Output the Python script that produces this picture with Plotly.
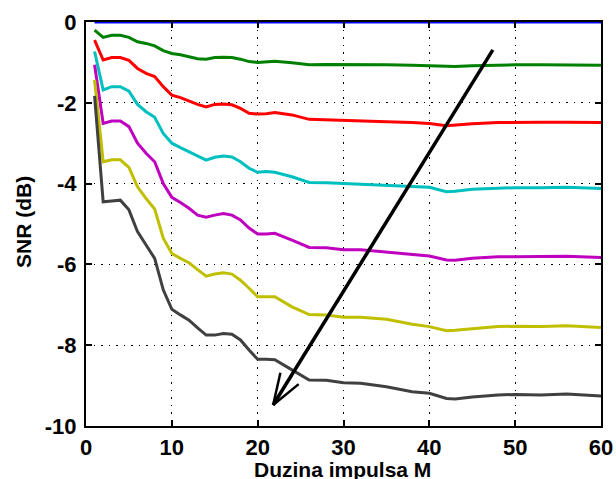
import numpy as np
import plotly.graph_objects as go

M = [1, 2, 3, 4, 5, 6, 7, 8, 9, 10, 11, 12, 13, 14, 15, 16, 17, 18, 19, 20, 21, 22,
     24, 26, 28, 30, 32, 35, 38, 40, 42, 43, 45, 48, 50, 53, 56, 60]

snr_blue = [0.0] * len(M)
snr_green = [-0.20, -0.38, -0.33, -0.33, -0.38, -0.49, -0.53, -0.59, -0.71, -0.78, -0.81, -0.86, -0.91, -0.92, -0.88, -0.87, -0.88, -0.92, -0.98, -1.00, -0.99, -0.97,
             -1.01, -1.06, -1.05, -1.05, -1.05, -1.06, -1.07, -1.08, -1.10, -1.10, -1.08, -1.06, -1.06, -1.06, -1.06, -1.07]
snr_red = [-0.45, -0.94, -0.88, -0.88, -0.95, -1.15, -1.27, -1.35, -1.60, -1.81, -1.87, -1.95, -2.04, -2.10, -2.04, -2.03, -2.05, -2.14, -2.26, -2.28, -2.27, -2.24,
           -2.30, -2.41, -2.42, -2.43, -2.44, -2.47, -2.49, -2.51, -2.57, -2.55, -2.52, -2.49, -2.48, -2.48, -2.48, -2.49]
snr_cyan = [-0.73, -1.68, -1.60, -1.60, -1.71, -2.04, -2.22, -2.36, -2.76, -3.00, -3.11, -3.21, -3.33, -3.42, -3.35, -3.32, -3.34, -3.46, -3.62, -3.72, -3.70, -3.72,
            -3.83, -3.97, -3.98, -4.00, -4.01, -4.05, -4.07, -4.09, -4.20, -4.19, -4.14, -4.11, -4.10, -4.10, -4.09, -4.12]
snr_magenta = [-1.06, -2.51, -2.45, -2.45, -2.59, -3.00, -3.25, -3.46, -4.00, -4.34, -4.47, -4.61, -4.78, -4.83, -4.78, -4.74, -4.78, -4.90, -5.10, -5.25, -5.25, -5.23,
               -5.40, -5.58, -5.59, -5.64, -5.64, -5.69, -5.74, -5.79, -5.89, -5.90, -5.85, -5.81, -5.81, -5.81, -5.80, -5.83]
snr_yellow = [-1.43, -3.46, -3.41, -3.41, -3.60, -4.08, -4.37, -4.63, -5.35, -5.73, -5.85, -5.96, -6.13, -6.29, -6.24, -6.21, -6.24, -6.39, -6.59, -6.80, -6.80, -6.80,
              -7.05, -7.24, -7.25, -7.31, -7.31, -7.36, -7.48, -7.54, -7.64, -7.63, -7.59, -7.54, -7.53, -7.54, -7.52, -7.56]
snr_black = [-1.83, -4.45, -4.43, -4.41, -4.65, -5.19, -5.52, -5.85, -6.63, -7.11, -7.25, -7.38, -7.57, -7.75, -7.75, -7.71, -7.73, -7.87, -8.12, -8.35, -8.35, -8.36,
             -8.61, -8.86, -8.87, -8.93, -8.94, -9.03, -9.15, -9.19, -9.32, -9.33, -9.28, -9.23, -9.22, -9.23, -9.21, -9.26]

series = [
    (snr_blue, "#0000ff"),
    (snr_green, "#008000"),
    (snr_red, "#ff0000"),
    (snr_cyan, "#00bfbf"),
    (snr_magenta, "#bf00bf"),
    (snr_yellow, "#bfbf00"),
    (snr_black, "#404040"),
]

arrow_tail = (47.4, -0.69)
arrow_tip = (21.8, -9.48)

x_ticks = [0, 10, 20, 30, 40, 50, 60]
y_ticks = [0, -2, -4, -6, -8, -10]
x_title = "Duzina impulsa M"
y_title = "SNR (dB)"

fig = go.Figure()
for vals, col in series:
    fig.add_trace(go.Scatter(x=M, y=vals, mode="lines",
                             line=dict(color=col, width=3), showlegend=False,
                             hoverinfo="skip"))

# arrow shaft
fig.add_trace(go.Scatter(x=[arrow_tail[0], arrow_tip[0]], y=[arrow_tail[1], arrow_tip[1]],
                         mode="lines", line=dict(color="black", width=3.5),
                         showlegend=False, hoverinfo="skip"))

# open arrowhead (barbs computed in pixel space)
L, R, T, B = 86, 15, 22, 53
W, H = 616, 479
sx = (W - L - R) / 60.0
sy = (H - T - B) / 10.0
dx = (arrow_tail[0] - arrow_tip[0]) * sx
dy = (arrow_tail[1] - arrow_tip[1]) * sy
ang = np.arctan2(dy, dx)
bl = 33
bx, by = [], []
for s in (+1, -1):
    a = ang + s * np.deg2rad(19)
    bx += [arrow_tip[0] + bl * np.cos(a) / sx, arrow_tip[0], None]
    by += [arrow_tip[1] + bl * np.sin(a) / sy, arrow_tip[1], None]
fig.add_trace(go.Scatter(x=bx, y=by, mode="lines", line=dict(color="black", width=2.5),
                         showlegend=False, hoverinfo="skip"))

font = dict(family="Liberation Sans, Arial, sans-serif", size=22, color="black")
tfont = dict(family="Liberation Sans, Arial, sans-serif", size=21, color="black")

axis_common = dict(
    showgrid=True, gridcolor="black", griddash="1.5px,6px", gridwidth=1.3,
    showline=True, linecolor="black", linewidth=2, mirror="ticks",
    ticks="inside", ticklen=6, tickcolor="black", tickwidth=1.5, zeroline=False,
    tickfont=font, automargin=False,
)

pw = W - L - R
ph = H - T - B

fig.update_layout(
    width=W, height=H,
    margin=dict(l=L, r=R, t=T, b=B, autoexpand=False),
    plot_bgcolor="white", paper_bgcolor="white",
    font=font,
    xaxis=dict(range=[0, 60], tickvals=x_ticks, ticktext=[f"<b>{v}</b>" for v in x_ticks],
               ticklabelstandoff=1, **axis_common),
    yaxis=dict(range=[-10, 0], tickvals=y_ticks, ticktext=[f"<b>{v}</b>" for v in y_ticks],
               ticklabelstandoff=3, **axis_common),
    annotations=[
        dict(text=f"<b>{x_title}</b>", xref="paper", yref="paper",
             x=(342.5 - L) / pw, y=-(469 - (T + ph)) / ph,
             xanchor="center", yanchor="middle", showarrow=False, font=tfont),
        dict(text=f"<b>{y_title}</b>", xref="paper", yref="paper",
             x=(23 - L) / pw, y=1 - (222 - T) / ph, textangle=-90,
             xanchor="center", yanchor="middle", showarrow=False, font=tfont),
    ],
)

fig.write_html("out.html")
